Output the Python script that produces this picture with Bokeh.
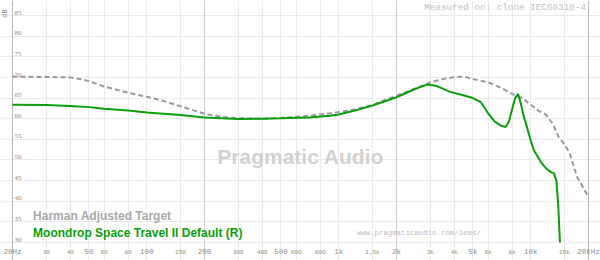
from bokeh.plotting import figure
from bokeh.models import (Range1d, FixedTicker, Label, LabelSet, ColumnDataSource, Grid, LogAxis)
from bokeh.embed import file_html
from bokeh.resources import INLINE

# ---- data ----
harman_freq = [20, 30, 40, 45, 50, 60, 80, 100, 120, 150, 200, 250, 300, 400, 500, 700, 900, 1000,
               1200, 1500, 2000, 2500, 3000, 3500, 4000, 4500, 5000, 6000, 7000, 8000, 9000, 10000,
               11000, 12000, 13000, 14000, 15000, 16000, 17400, 20000]
harman_db = [70.2, 70.1, 70.0, 69.6, 69.1, 67.8, 66.3, 65.3, 64.4, 63.0, 61.2, 60.4, 60.1, 60.0, 60.2,
             60.7, 61.3, 61.6, 62.2, 63.3, 65.6, 67.3, 68.8, 69.6, 70.1, 70.2, 69.6, 68.8, 67.5, 66.0,
             65.0, 63.4, 61.9, 61.0, 58.8, 55.5, 53.8, 51.5, 46.0, 41.0]

green_freq = [20, 30, 40, 50, 60, 80, 100, 150, 200, 300, 400, 500, 700, 900, 1000, 1200, 1500, 2000,
              2500, 2900, 3200, 3800, 4500, 5000, 5500, 6000, 6500, 7000, 7400, 7700, 8000, 8300, 8600,
              8900, 9200, 9450, 10000, 10400, 11300, 12000, 12800, 13200, 13600, 13900, 14200]
green_db = [63.4, 63.3, 63.1, 62.8, 62.4, 62.0, 61.5, 60.9, 60.3, 59.9, 60.0, 60.1, 60.3, 60.7, 61.0,
            61.9, 63.2, 65.2, 67.2, 68.3, 68.0, 66.5, 65.6, 65.0, 64.0, 61.3, 59.3, 58.3, 58.0, 59.3,
            62.3, 65.0, 66.0, 63.5, 60.5, 58.8, 54.7, 52.3, 49.5, 48.0, 47.0, 46.8, 45.0, 39.4, 30.0]

y_ticks = [30, 35, 40, 45, 50, 55, 60, 65, 70, 75, 80, 85]
y_tick_labels = [str(v) for v in y_ticks]

x_major_ticks = [20, 50, 100, 200, 500, 1000, 2000, 5000, 10000, 20000]
x_major_labels = ["20Hz", "50", "100", "200", "500", "1k", "2k", "5k", "10k", "20kHz"]
x_minor_ticks = [30, 40, 60, 80, 150, 300, 400, 600, 800, 1500, 3000, 4000, 6000, 8000, 15000]
x_minor_labels = ["30", "40", "60", "80", "150", "300", "400", "600", "800", "1.5k", "3k", "4k",
                  "6k", "8k", "15k"]
x_dark_ticks = [200, 2000]
x_edge_ticks = [20, 20000]

series_names = ["Harman Adjusted Target", "Moondrop Space Travel II Default (R)"]

F_MIN, F_MAX = 20, 20000
DB_MIN, DB_MAX = 30, 85

MONO = "Liberation Mono"
SANS = "Liberation Sans"

# frame spans the whole canvas; the graph region is 20Hz..20kHz x 30..85 dB
p = figure(width=600, height=260, x_axis_type="log",
           x_range=Range1d(17.32, 23094), y_range=Range1d(25.64, 88.634),
           output_backend="svg", toolbar_location=None,
           x_axis_location=None, y_axis_location=None,
           min_border=0, min_border_left=0, min_border_right=0, min_border_top=0, min_border_bottom=0,
           background_fill_color="white", border_fill_color="white", outline_line_color=None)
p.grid.visible = False

# grids limited to the graph region
p.add_layout(Grid(dimension=1, ticker=FixedTicker(ticks=y_ticks), bounds=(F_MIN, F_MAX),
                  grid_line_color="#ebebeb"))
p.add_layout(Grid(dimension=0, ticker=FixedTicker(ticks=x_major_ticks + x_minor_ticks),
                  bounds=(DB_MIN, DB_MAX), grid_line_color="#ebebeb"))
p.add_layout(Grid(dimension=0, ticker=FixedTicker(ticks=x_dark_ticks),
                  bounds=(DB_MIN, DB_MAX), grid_line_color="#cdcdcd"))
p.add_layout(Grid(dimension=0, ticker=FixedTicker(ticks=x_edge_ticks),
                  bounds=(DB_MIN, DB_MAX), grid_line_color="#b8b8b8"))


def make_axis(ticks, labels, size, standoff):
    ax = LogAxis(ticker=FixedTicker(ticks=ticks), fixed_location=DB_MIN)
    ax.major_label_overrides = {t: l for t, l in zip(ticks, labels)}
    ax.axis_line_color = None
    ax.major_tick_line_color = None
    ax.minor_tick_line_color = None
    ax.major_tick_out = 0
    ax.major_tick_in = 0
    ax.minor_tick_out = 0
    ax.minor_tick_in = 0
    ax.major_label_standoff = standoff
    ax.major_label_text_font = MONO
    ax.major_label_text_font_size = size
    ax.major_label_text_color = "#8c8c8c"
    return ax


p.add_layout(make_axis(x_major_ticks, x_major_labels, "7.5px", 5), "below")
p.add_layout(make_axis(x_minor_ticks, x_minor_labels, "6px", 6), "below")

# curves
p.line(harman_freq, harman_db, line_color="#9c98a3", line_width=2, line_dash="5 3")
p.line(green_freq, green_db, line_color="#0a9e0a", line_width=2)

# y tick labels inside the graph, just above each gridline
ysrc = ColumnDataSource(dict(x=[F_MIN] * len(y_ticks), y=[v + 0.7 for v in y_ticks], t=y_tick_labels))
p.add_layout(LabelSet(x="x", y="y", text="t", source=ysrc, x_offset=2, text_align="left",
                      text_baseline="middle", text_font=MONO, text_font_size="7px",
                      text_color="#8c8c8c"))

# dB unit label
p.add_layout(Label(x=18.39, y=85.48, text="dB", angle=1.5708, text_align="center",
                   text_baseline="middle", text_font=MONO, text_font_size="7px",
                   text_color="#8c8c8c"))

# measured-on note
p.add_layout(Label(x=19400, y=86.94, text="Measured on: clone IEC60318-4", text_align="right",
                   text_baseline="middle", text_font=MONO, text_font_size="9.3px",
                   text_color="#c2c2c2"))

# watermark
p.add_layout(Label(x=634, y=50.8, text="Pragmatic Audio", text_align="center",
                   text_baseline="middle", text_font=SANS, text_font_style="bold",
                   text_font_size="21px", text_color="#d2d2d2"))

# url
p.add_layout(Label(x=5500, y=32.2, text="www.pragmaticaudio.com/iems/", text_align="right",
                   text_baseline="middle", text_font=MONO, text_font_size="7.4px",
                   text_color="#bdbdbd"))

# legend texts
p.add_layout(Label(x=25.6, y=36.5, text=series_names[0], text_align="left",
                   text_baseline="middle", text_font=SANS, text_font_style="bold",
                   text_font_size="12px", text_color="#a9a9a9"))
p.add_layout(Label(x=25.6, y=32.4, text=series_names[1], text_align="left",
                   text_baseline="middle", text_font=SANS, text_font_style="bold",
                   text_font_size="12px", text_color="#0a9e0a"))

open("out.html", "w").write(file_html(p, INLINE))
